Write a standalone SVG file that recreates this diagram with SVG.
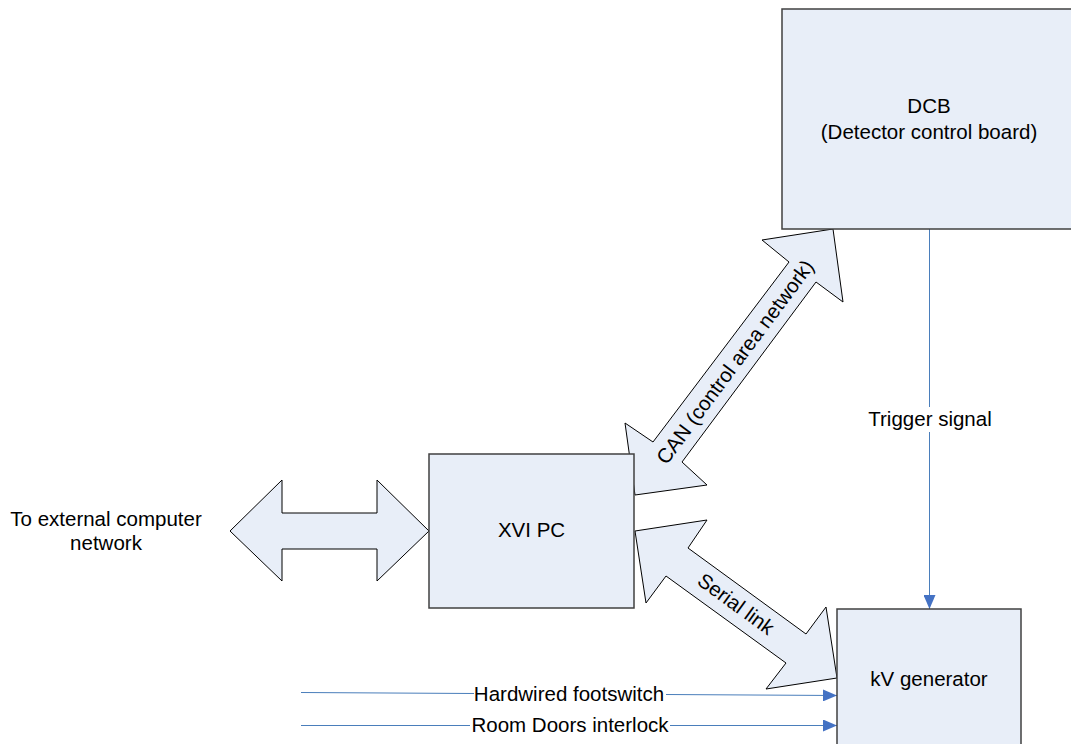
<svg xmlns="http://www.w3.org/2000/svg" width="1071" height="744" viewBox="0 0 1071 744">
<style>
.box{fill:#e8eef8;stroke:#404040;stroke-width:1.5}
.arr{fill:#e8eef8;stroke:#000;stroke-width:1}
.t{font-family:"Liberation Sans",Arial,sans-serif;font-size:20.5px;fill:#000;text-anchor:middle}
.ln{stroke:#4a7ebb;stroke-width:1;fill:none}
</style>
<defs>
<marker id="ah" markerWidth="14" markerHeight="12" refX="14" refY="6" orient="auto" markerUnits="userSpaceOnUse">
<path d="M0,0 L14,6 L0,12 Z" fill="#4472c4"/>
</marker>
</defs>
<rect width="1071" height="744" fill="#fff"/>
<g id="connectors">
<polygon id="ext-arrow" class="arr" points="230,531 282,480 282,513 377,513 377,480 429,531 377,581 377,549 282,549 282,581"/>
<polygon id="can-arrow" class="arr" points="833,229 843,302 816,282 682,462 707,485 635,495 625,423 653,442 789,262 762,240"/>
<text class="t" transform="translate(735,362) rotate(-53.3)" y="7">CAN (control area network)</text>
<polygon id="serial-arrow" class="arr" points="635,531 707,520 688,548 806,634 826,607 837,678 766,689 786,663 666,576 646,603"/>
<text class="t" transform="translate(736,604) rotate(36)" y="7">Serial link</text>
<line class="ln" x1="929.5" y1="229" x2="929.5" y2="407"/>
<line class="ln" x1="929.5" y1="432" x2="929.5" y2="609" marker-end="url(#ah)"/>
<text class="t" x="930" y="426">Trigger signal</text>
<line class="ln" x1="301" y1="692.5" x2="474" y2="693.5"/>
<line class="ln" x1="666" y1="694.5" x2="837" y2="695.5" marker-end="url(#ah)"/>
<text class="t" x="569" y="701">Hardwired footswitch</text>
<line class="ln" x1="301" y1="725.5" x2="470" y2="725.5"/>
<line class="ln" x1="670" y1="725.5" x2="837" y2="725.5" marker-end="url(#ah)"/>
<text class="t" x="570" y="732">Room Doors interlock</text>
</g>
<g id="dcb">
<rect class="box" x="782" y="9" width="296" height="220"/>
<text class="t" x="929" y="113">DCB</text>
<text class="t" x="929" y="139">(Detector control board)</text>
</g>
<g id="xvi-pc">
<rect class="box" x="429" y="454" width="205" height="154"/>
<text class="t" x="531.5" y="537">XVI PC</text>
</g>
<g id="kv-generator">
<rect class="box" x="837" y="609" width="184" height="150"/>
<text class="t" x="929" y="685.5">kV generator</text>
</g>
<g id="external">
<text class="t" x="106" y="525.5">To external computer</text>
<text class="t" x="106" y="550">network</text>
</g>
</svg>
